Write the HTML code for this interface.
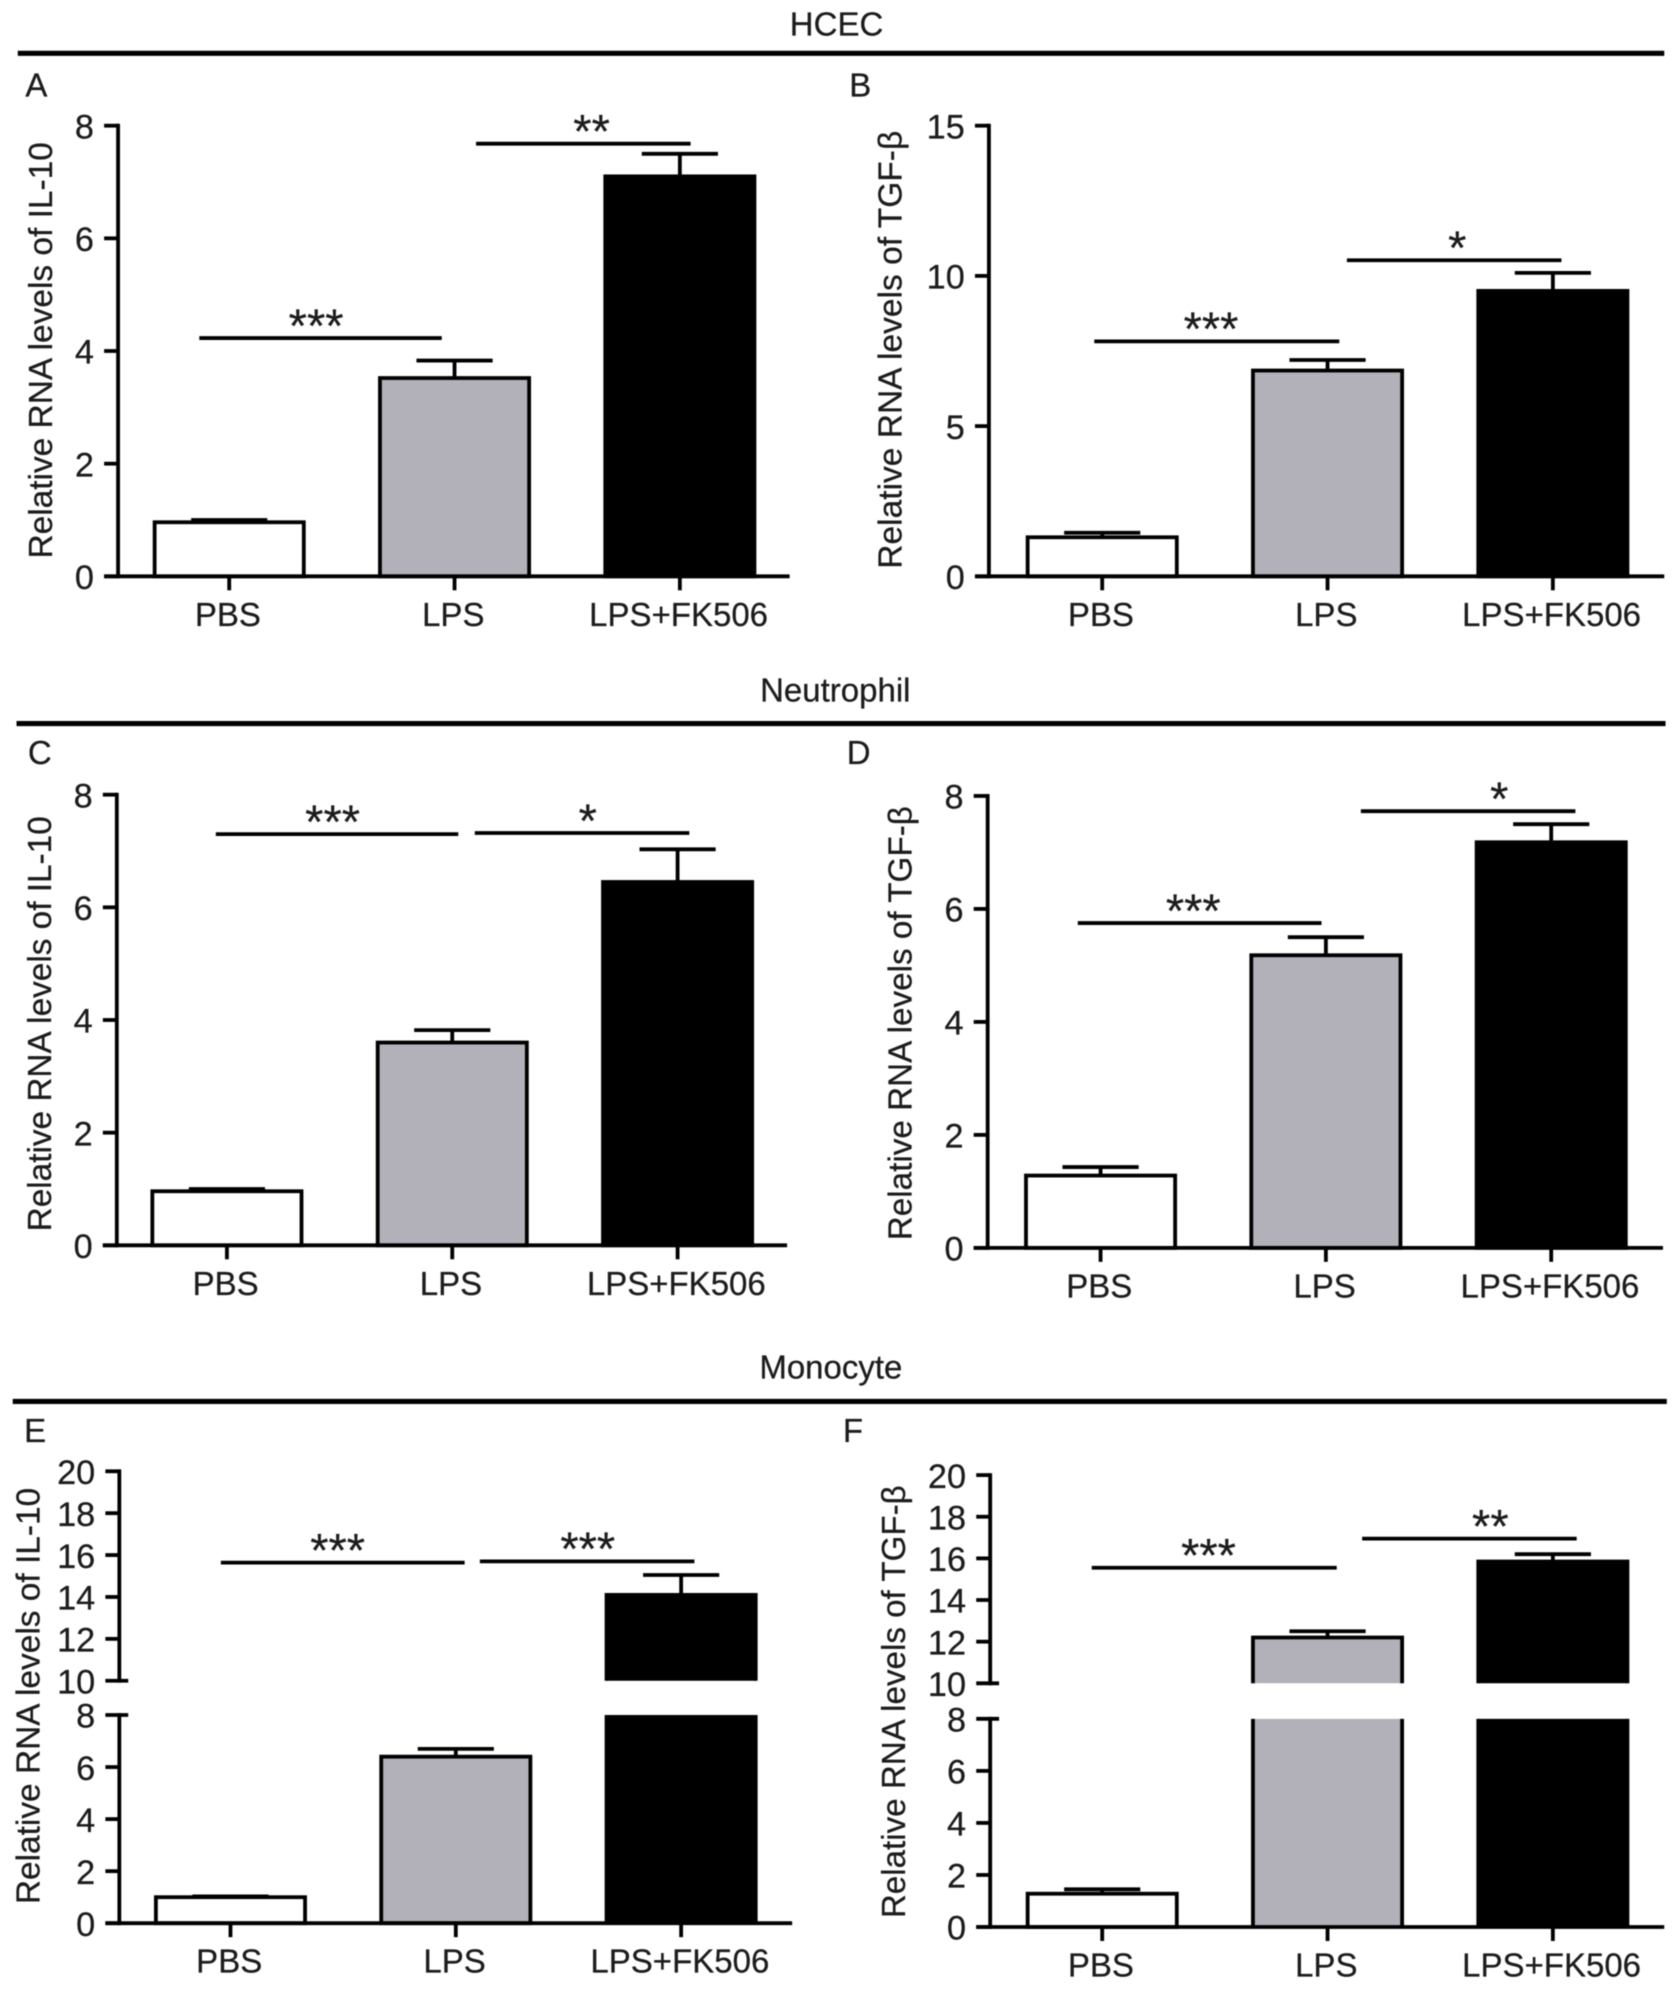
<!DOCTYPE html>
<html lang="en">
<head>
<meta charset="utf-8">
<title>Relative RNA levels of IL-10 and TGF-β</title>
<style>
html,body{margin:0;padding:0;background:#fff;width:1679px;height:1991px;overflow:hidden}
svg{display:block;filter:blur(0.5px)}
text{font-family:"Liberation Sans",Arial,sans-serif;fill:#1c1c1c;stroke:#1c1c1c;stroke-width:0.2px}
</style>
</head>
<body>
<svg id="figure" xmlns="http://www.w3.org/2000/svg" width="1679" height="1991" viewBox="0 0 1322.6 1568.4">
  <rect x="0" y="0" width="1323" height="1569" fill="#fff"/>
  <text x="659" y="28" font-size="26" text-anchor="middle">HCEC</text>
  <line x1="14" x2="1311" y1="42" y2="42" stroke="#000" stroke-width="4"/>
  <text x="658" y="552.5" font-size="26" text-anchor="middle">Neutrophil</text>
  <line x1="13" x2="1312" y1="570" y2="570" stroke="#000" stroke-width="4"/>
  <text x="654.5" y="1086" font-size="26" text-anchor="middle">Monocyte</text>
  <line x1="10" x2="1313" y1="1104" y2="1104" stroke="#000" stroke-width="4"/>
</svg>
<script>
// ---- Data ----
const categories = ['PBS', 'LPS', 'LPS+FK506'];

const valuesA = [0.96, 3.52, 7.1];
const errorTopsA = [1.0, 3.83, 7.5];
const ticksA = [0, 2, 4, 6, 8];
const sigLevelsA = [4.23, 7.68];
const sigLabelsA = ['***', '**'];

const valuesB = [1.3, 6.85, 9.5];
const errorTopsB = [1.45, 7.2, 10.1];
const ticksB = [0, 5, 10, 15];
const sigLevelsB = [7.82, 10.52];
const sigLabelsB = ['***', '*'];

const valuesC = [0.96, 3.6, 6.45];
const errorTopsC = [1.0, 3.82, 7.03];
const ticksC = [0, 2, 4, 6, 8];
const sigLevelsC = [7.3, 7.32];
const sigLabelsC = ['***', '*'];

const valuesD = [1.28, 5.18, 7.18];
const errorTopsD = [1.43, 5.5, 7.5];
const ticksD = [0, 2, 4, 6, 8];
const sigLevelsD = [5.75, 7.73];
const sigLabelsD = ['***', '*'];

const valuesE = [1.0, 6.4, 14.1];
const errorTopsE = [1.03, 6.7, 15.05];
const ticksE = [0, 2, 4, 6, 8, 10, 12, 14, 16, 18, 20];
const sigLevelsE = [15.64, 15.7];
const sigLabelsE = ['***', '***'];

const valuesF = [1.28, 12.2, 15.85];
const errorTopsF = [1.45, 12.5, 16.2];
const ticksF = [0, 2, 4, 6, 8, 10, 12, 14, 16, 18, 20];
const sigLevelsF = [15.55, 16.95];
const sigLabelsF = ['***', '**'];

const barFills = ['#ffffff', '#b2b1b9', '#000000'];
const barKeys = ['pbs', 'lps', 'lps-fk506'];

// ---- Layout ----
const panels = [
  {id:'a', letter:'A', lx:20, ly:76, values:valuesA, tops:errorTopsA, ticks:ticksA, sig:sigLevelsA, stars:sigLabelsA,
   ax:93, xEnd:622, zero:454, top:99, max:8, bar0:120.3, title:'IL-10', tx:41, t0:440, t1:112,
   spans:[[157,348,249],[375,544,466]]},
  {id:'b', letter:'B', lx:669, ly:76, values:valuesB, tops:errorTopsB, ticks:ticksB, sig:sigLevelsB, stars:sigLabelsB,
   ax:779, xEnd:1311, zero:454, top:99, max:15, bar0:808, title:'TGF-β', tx:710, t0:448, t1:103,
   spans:[[862,1055,954],[1061,1230,1148]]},
  {id:'c', letter:'C', lx:22, ly:602, values:valuesC, tops:errorTopsC, ticks:ticksC, sig:sigLevelsC, stars:sigLabelsC,
   ax:92, xEnd:620, zero:981, top:626, max:8, bar0:118.5, title:'IL-10', tx:40, t0:970, t1:643,
   spans:[[170,361,262],[374,543,463]]},
  {id:'d', letter:'D', lx:667, ly:602, values:valuesD, tops:errorTopsD, ticks:ticksD, sig:sigLevelsD, stars:sigLabelsD,
   ax:778, xEnd:1310, zero:983, top:627, max:8, bar0:806.7, title:'TGF-β', tx:718, t0:977, t1:635,
   spans:[[849,1041,940],[1072,1241,1181]]},
  {id:'e', letter:'E', lx:19, ly:1136, values:valuesE, tops:errorTopsE, ticks:ticksE, sig:sigLevelsE, stars:sigLabelsE,
   ax:94, xEnd:624, zero:1515, top:1159, low:1351, high:1324, max:20, bar0:121.3, title:'IL-10', tx:31, t0:1500, t1:1172,
   spans:[[174,366,266],[378,547,463]]},
  {id:'f', letter:'F', lx:664, ly:1136, values:valuesF, tops:errorTopsF, ticks:ticksF, sig:sigLevelsF, stars:sigLabelsF,
   ax:780, xEnd:1311, zero:1518, top:1162, low:1354, high:1326, max:20, bar0:808, title:'TGF-β', tx:713, t0:1511, t1:1170,
   spans:[[860,1053,952],[1073,1242,1174]]}
];
const BAR_W = 120.5, BAR_STEP = 177.5, SW = 3, TICK = 11, CAP = 30;
const NS = 'http://www.w3.org/2000/svg';
const root = document.getElementById('figure');

function make(parent, tag, attrs, name, text) {
  const el = document.createElementNS(NS, tag);
  Object.keys(attrs).forEach(function (k) { el.setAttribute(k, attrs[k]); });
  
  
  if (text !== undefined) el.textContent = text;
  parent.appendChild(el);
  return el;
}

function yScale(p) {
  if (p.low === undefined) {
    return function (v) { return p.zero - (v / p.max) * (p.zero - p.top); };
  }
  return function (v) {
    if (v <= 8) return p.zero - (v / 8) * (p.zero - p.low);
    return p.high - ((v - 10) / (p.max - 10)) * (p.high - p.top);
  };
}
function xLeft(p, i) { return p.bar0 + i * BAR_STEP; }
function xCenter(p, i) { return xLeft(p, i) + BAR_W / 2; }

function drawBar(g, p, y, i) {
  const v = p.values[i];
  const l = xLeft(p, i) + SW / 2;
  const r = xLeft(p, i) + BAR_W - SW / 2;
  const fill = barFills[i];
  const key = barKeys[i];
  if (p.low !== undefined && v > 10) {
    make(g, 'path', {d:'M' + l + ' ' + p.zero + 'V' + p.low + 'H' + r + 'V' + p.zero, fill:fill, stroke:'none'}, 'bar-' + key + '-lower-fill');
    make(g, 'path', {d:'M' + l + ' ' + p.zero + 'V' + p.low + 'M' + r + ' ' + p.low + 'V' + p.zero, fill:'none', stroke:'#000', 'stroke-width':SW}, 'bar-' + key + '-lower-edge');
    make(g, 'path', {d:'M' + l + ' ' + p.high + 'V' + y(v) + 'H' + r + 'V' + p.high, fill:fill, stroke:'#000', 'stroke-width':SW}, 'bar-' + key + '-upper');
  } else {
    make(g, 'rect', {x:l, y:y(v), width:r - l, height:p.zero - y(v), fill:fill, stroke:'#000', 'stroke-width':SW}, 'bar-' + key);
  }
}

function drawError(g, p, y, i) {
  const c = xCenter(p, i);
  const key = barKeys[i];
  make(g, 'line', {x1:c, x2:c, y1:y(p.values[i]), y2:y(p.tops[i]), stroke:'#000', 'stroke-width':SW}, 'error-stem-' + key);
  make(g, 'line', {x1:c - CAP, x2:c + CAP, y1:y(p.tops[i]), y2:y(p.tops[i]), stroke:'#000', 'stroke-width':SW}, 'error-cap-' + key);
}

function drawPanel(p) {
  const g = make(root, 'g', {}, 'panel-' + p.id);
  const y = yScale(p);
  make(g, 'text', {x:p.lx, y:p.ly, 'font-size':26}, 'panel-letter-' + p.id, p.letter);

  for (let i = 0; i < categories.length; i++) {
    drawBar(g, p, y, i);
    drawError(g, p, y, i);
  }

  // y axis
  if (p.low === undefined) {
    make(g, 'line', {x1:p.ax, x2:p.ax, y1:p.top - SW / 2, y2:p.zero + SW / 2, stroke:'#000', 'stroke-width':SW}, 'y-axis');
  } else {
    make(g, 'line', {x1:p.ax, x2:p.ax, y1:p.low - SW / 2, y2:p.zero + SW / 2, stroke:'#000', 'stroke-width':SW}, 'y-axis-lower');
    make(g, 'line', {x1:p.ax, x2:p.ax, y1:p.top - SW / 2, y2:p.high + SW / 2, stroke:'#000', 'stroke-width':SW}, 'y-axis-upper');
  }
  p.ticks.forEach(function (t) {
    const ty = y(t);
    const over = (p.low !== undefined && (t === 8 || t === 10)) ? 7 : 0;
    make(g, 'line', {x1:p.ax - TICK, x2:p.ax + over, y1:ty, y2:ty, stroke:'#000', 'stroke-width':SW}, 'y-tick-' + t);
    make(g, 'text', {x:p.ax - 19, y:ty + 10, 'font-size':27, 'text-anchor':'end'}, 'y-tick-label-' + t, String(t));
  });

  // x axis
  make(g, 'line', {x1:p.ax - TICK, x2:p.xEnd, y1:p.zero, y2:p.zero, stroke:'#000', 'stroke-width':SW}, 'x-axis');
  categories.forEach(function (c, i) {
    const cx = xCenter(p, i);
    make(g, 'line', {x1:cx, x2:cx, y1:p.zero, y2:p.zero + 11, stroke:'#000', 'stroke-width':SW}, 'x-tick-' + barKeys[i]);
    make(g, 'text', {x:cx - 1, y:p.zero + 39, 'font-size':26, 'text-anchor':'middle'}, 'x-tick-label-' + barKeys[i], c);
  });

  // y axis title
  make(g, 'text', {
    x:0, y:0, 'font-size':26, textLength:p.t0 - p.t1, lengthAdjust:'spacingAndGlyphs',
    transform:'translate(' + p.tx + ' ' + p.t0 + ') rotate(-90)'
  }, 'y-axis-title', 'Relative RNA levels of ' + p.title);

  // significance brackets
  p.spans.forEach(function (s, i) {
    const sy = y(p.sig[i]);
    make(g, 'line', {x1:s[0], x2:s[1], y1:sy, y2:sy, stroke:'#000', 'stroke-width':SW}, 'significance-line-' + (i + 1));
    make(g, 'text', {x:s[2], y:sy + 3, 'font-size':37, 'text-anchor':'middle'}, 'significance-stars-' + (i + 1), p.stars[i]);
  });
}

panels.forEach(drawPanel);
</script>
</body>
</html>
